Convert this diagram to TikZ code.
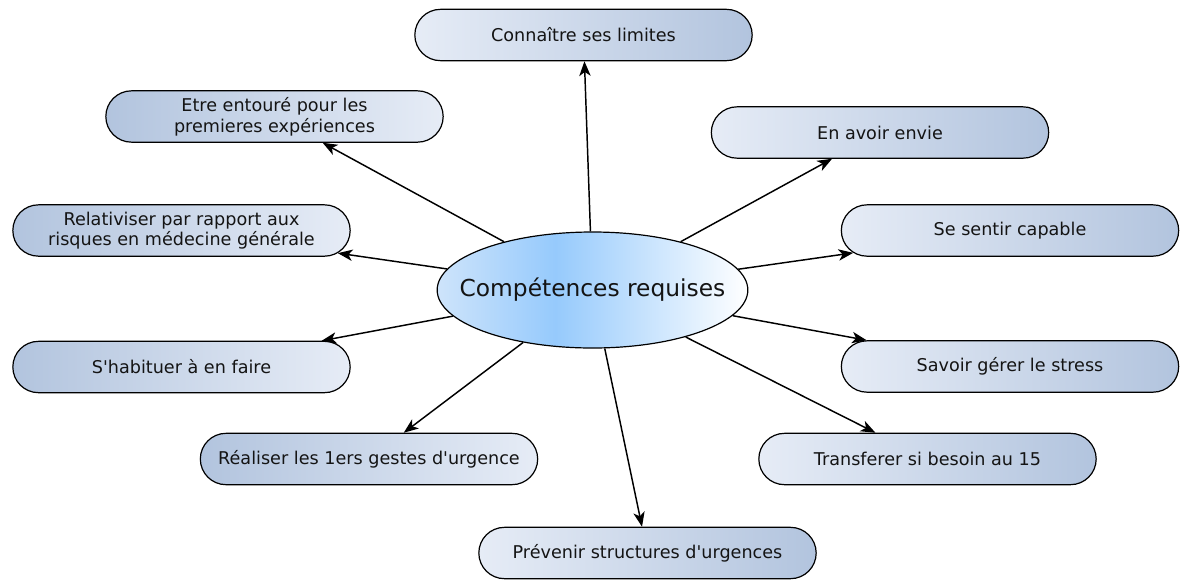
\documentclass[tikz,border=0pt]{standalone}
\usepackage{fontspec}
\setmainfont{DejaVu Sans}
\usetikzlibrary{shapes.misc,shapes.geometric,arrows.meta}

\definecolor{boxlight}{RGB}{230,236,246}
\definecolor{boxdark}{RGB}{178,196,222}
\definecolor{ovalside}{RGB}{206,228,251}
\definecolor{ovalmid}{RGB}{150,202,252}
\definecolor{inktext}{RGB}{20,20,20}

% darkest blue a bit left of the middle
\pgfdeclarehorizontalshading{hubshade}{100bp}{color(0bp)=(ovalside); color(25bp)=(ovalside);
  color(44bp)=(ovalmid); color(75bp)=(white); color(100bp)=(white)}

\tikzset{
  idea/.style={rounded rectangle, draw=black, line width=0.9pt, minimum width=257pt,
    minimum height=38.5pt, inner sep=2pt, align=center, text=inktext, font=\fontsize{13.2}{15.5}\selectfont},
  ideaR/.style={idea, left color=boxlight, right color=boxdark},
  ideaL/.style={idea, left color=boxdark, right color=boxlight},
  hub/.style={ellipse, draw=black, line width=0.9pt, minimum width=233pt, minimum height=87pt,
    inner xsep=-19pt, inner ysep=0pt, shading=hubshade, text=inktext,
    font=\fontsize{17.5}{20}\selectfont},
  link/.style={line width=1.1pt, -{Stealth[length=11pt,width=8.5pt,inset=3pt]}}
}

\begin{document}
\begin{tikzpicture}[x=0.75pt,y=0.75pt,yscale=-1,xscale=1]
\useasboundingbox (0,0) rectangle (1180,579);

% Hub
\node [hub] (hub) at (592.5,290) {Compétences requises};

% Ideas
\node [ideaR] (limites) at (583.5,35) {Connaître ses limites};
\node [ideaL] (entoure) at (274.5,116.5) {Etre entouré pour les\\premieres expériences};
\node [ideaR] (envie) at (880,132.5) {En avoir envie};
\node [ideaL] (relativiser) at (181.5,230.5) {Relativiser par rapport aux\\risques en médecine générale};
\node [ideaR] (capable) at (1010,230.5) {Se sentir capable};
\node [ideaL] (habituer) at (181.5,367) {S\textquotesingle habituer à en faire};
\node [ideaR] (stress) at (1010,366.5) {Savoir gérer le stress};
\node [ideaL] (gestes) at (369,459) {Réaliser les 1ers gestes d\textquotesingle urgence};
\node [ideaR] (transferer) at (927.5,459) {Transferer si besoin au 15};
\node [ideaR] (prevenir) at (647.5,553) {Prévenir structures d\textquotesingle urgences};

% Links
\foreach \target in {limites,entoure,envie,relativiser,capable,habituer,stress,gestes,transferer,prevenir}
  \draw [link] (hub) -- (\target);

\end{tikzpicture}
\end{document}
